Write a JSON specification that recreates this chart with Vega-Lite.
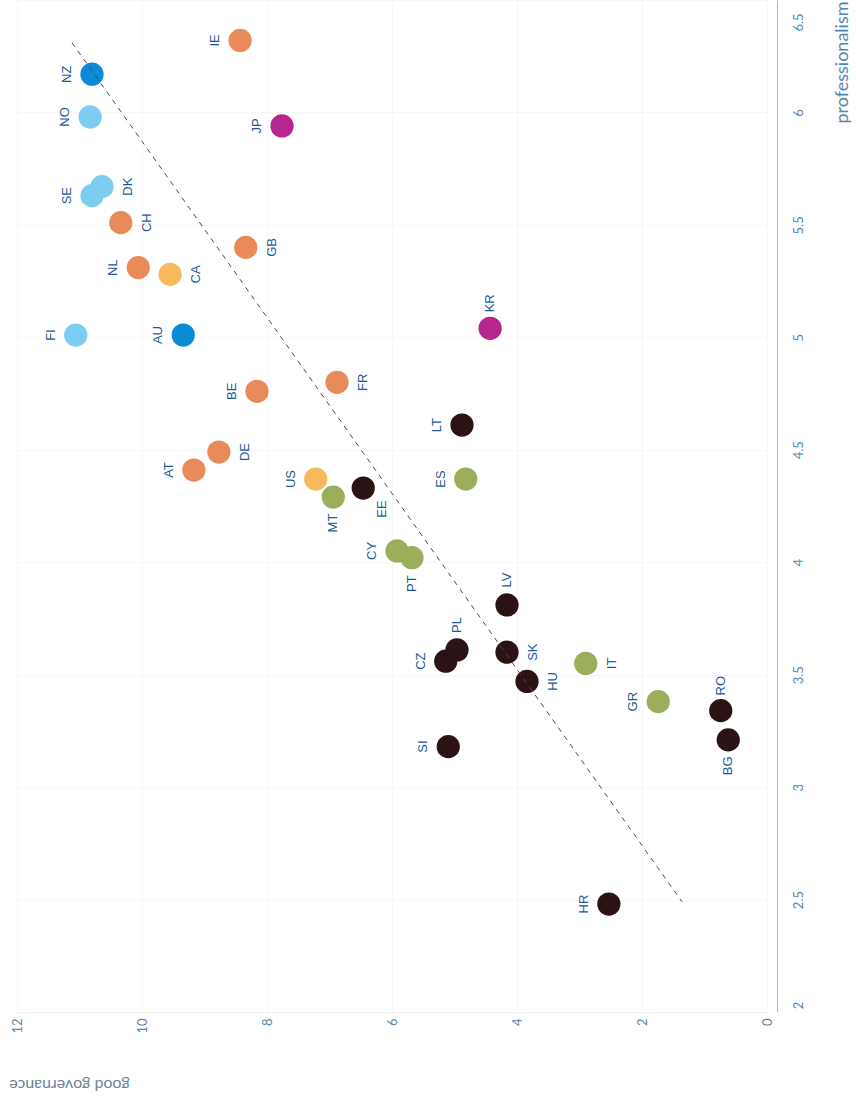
{
  "$schema": "https://vega.github.io/schema/vega-lite/v6.json",
  "autosize": {"type": "none"},
  "padding": {"left": 17, "top": 0, "right": 89, "bottom": 94},
  "width": 750,
  "height": 1012,
  "background": "white",
  "config": {"view": {"stroke": null}},
  "datasets": {
    "countries": [
      {"code": "IE", "group": "Western Europe", "governance": 8.43, "professionalism": 6.32},
      {"code": "NZ", "group": "Oceania", "governance": 10.80, "professionalism": 6.17},
      {"code": "NO", "group": "Nordic", "governance": 10.83, "professionalism": 5.98},
      {"code": "JP", "group": "East Asia", "governance": 7.76, "professionalism": 5.94},
      {"code": "SE", "group": "Nordic", "governance": 10.80, "professionalism": 5.63},
      {"code": "DK", "group": "Nordic", "governance": 10.64, "professionalism": 5.67},
      {"code": "CH", "group": "Western Europe", "governance": 10.34, "professionalism": 5.51},
      {"code": "GB", "group": "Western Europe", "governance": 8.34, "professionalism": 5.40},
      {"code": "NL", "group": "Western Europe", "governance": 10.06, "professionalism": 5.31},
      {"code": "CA", "group": "North America", "governance": 9.55, "professionalism": 5.28},
      {"code": "FI", "group": "Nordic", "governance": 11.06, "professionalism": 5.01},
      {"code": "AU", "group": "Oceania", "governance": 9.34, "professionalism": 5.01},
      {"code": "KR", "group": "East Asia", "governance": 4.43, "professionalism": 5.04},
      {"code": "BE", "group": "Western Europe", "governance": 8.16, "professionalism": 4.76},
      {"code": "FR", "group": "Western Europe", "governance": 6.88, "professionalism": 4.80},
      {"code": "LT", "group": "Central and Eastern Europe", "governance": 4.88, "professionalism": 4.61},
      {"code": "AT", "group": "Western Europe", "governance": 9.17, "professionalism": 4.41},
      {"code": "DE", "group": "Western Europe", "governance": 8.77, "professionalism": 4.49},
      {"code": "US", "group": "North America", "governance": 7.22, "professionalism": 4.37},
      {"code": "MT", "group": "Southern Europe", "governance": 6.94, "professionalism": 4.29},
      {"code": "EE", "group": "Central and Eastern Europe", "governance": 6.46, "professionalism": 4.33},
      {"code": "ES", "group": "Southern Europe", "governance": 4.82, "professionalism": 4.37},
      {"code": "CY", "group": "Southern Europe", "governance": 5.92, "professionalism": 4.05},
      {"code": "PT", "group": "Southern Europe", "governance": 5.68, "professionalism": 4.02},
      {"code": "LV", "group": "Central and Eastern Europe", "governance": 4.16, "professionalism": 3.81},
      {"code": "PL", "group": "Central and Eastern Europe", "governance": 4.96, "professionalism": 3.61},
      {"code": "CZ", "group": "Central and Eastern Europe", "governance": 5.14, "professionalism": 3.56},
      {"code": "SK", "group": "Central and Eastern Europe", "governance": 4.16, "professionalism": 3.60},
      {"code": "HU", "group": "Central and Eastern Europe", "governance": 3.84, "professionalism": 3.47},
      {"code": "IT", "group": "Southern Europe", "governance": 2.90, "professionalism": 3.55},
      {"code": "GR", "group": "Southern Europe", "governance": 1.74, "professionalism": 3.38},
      {"code": "RO", "group": "Central and Eastern Europe", "governance": 0.74, "professionalism": 3.34},
      {"code": "BG", "group": "Central and Eastern Europe", "governance": 0.62, "professionalism": 3.21},
      {"code": "SI", "group": "Central and Eastern Europe", "governance": 5.10, "professionalism": 3.18},
      {"code": "HR", "group": "Central and Eastern Europe", "governance": 2.53, "professionalism": 2.48}
    ],
    "trend": [
      {"governance": 11.12, "professionalism": 6.31},
      {"governance": 1.36, "professionalism": 2.49}
    ]
  },
  "encoding": {
    "x": {
      "field": "governance",
      "type": "quantitative",
      "scale": {"domain": [0, 12], "reverse": true, "nice": false, "zero": false},
      "axis": {
        "orient": "bottom",
        "title": "good governance",
        "values": [0, 2, 4, 6, 8, 10, 12],
        "format": "~g",
        "labelAngle": 270,
        "labelAlign": "right",
        "labelBaseline": "middle",
        "labelPadding": 6,
        "labelFlush": false,
        "labelOverlap": false,
        "ticks": false,
        "tickSize": 0,
        "domain": true,
        "domainColor": "#f0f0f0",
        "grid": true,
        "gridColor": "#f7f7f7",
        "labelFont": "Lato",
        "labelFontSize": 13,
        "labelColor": "#5b88ad",
        "titleAngle": 180,
        "titleAlign": "center",
        "titleBaseline": "middle",
        "titleX": 52,
        "titleY": 72,
        "titleFont": "Lato",
        "titleFontSize": 16,
        "titleFontWeight": "normal",
        "titleColor": "#6d8397"
      }
    },
    "y": {
      "field": "professionalism",
      "type": "quantitative",
      "scale": {"domain": [2, 6.5], "nice": false, "zero": false},
      "axis": {
        "orient": "right",
        "title": "professionalism",
        "values": [2, 2.5, 3, 3.5, 4, 4.5, 5, 5.5, 6, 6.5],
        "format": "~g",
        "offset": 10,
        "labelAngle": 270,
        "labelAlign": "center",
        "labelBaseline": "top",
        "labelPadding": 15,
        "labelFlush": false,
        "labelOverlap": false,
        "labelOffset": {"condition": [{"test": "datum.value == 6.5", "value": 22}, {"test": "datum.value == 2", "value": -7}], "value": 0},
        "ticks": false,
        "tickSize": 0,
        "domain": true,
        "domainColor": "#a9bccb",
        "grid": true,
        "gridColor": "#f7f7f7",
        "labelFont": "Lato",
        "labelFontSize": 13,
        "labelColor": "#5b88ad",
        "titleAngle": 270,
        "titleAlign": "right",
        "titleBaseline": "middle",
        "titleX": 65,
        "titleY": 1,
        "titleFont": "Lato",
        "titleFontSize": 18,
        "titleFontWeight": "normal",
        "titleColor": "#4f86b6"
      }
    }
  },
  "layer": [
    {
      "data": {"name": "countries"},
      "mark": {"type": "point", "filled": true, "opacity": 1, "size": 540, "strokeWidth": 0},
      "encoding": {
        "color": {
          "field": "group",
          "type": "nominal",
          "legend": null,
          "scale": {
            "domain": ["Nordic", "Oceania", "Western Europe", "North America", "East Asia", "Central and Eastern Europe", "Southern Europe"],
            "range": ["#7dcdf0", "#0b8bd3", "#e98a5b", "#f6b95c", "#b5268f", "#2b1214", "#9aae5b"]
          }
        }
      }
    },
    {
      "data": {"name": "countries"},
      "transform": [{"filter": {"field": "code", "oneOf": ["IE", "NZ", "NO", "JP", "SE", "NL", "FI", "AU", "BE", "AT", "US", "CY", "LT", "ES", "CZ", "GR", "SI", "HR"]}}],
      "mark": {"type": "text", "angle": 270, "dy": -25, "align": "center", "baseline": "middle", "font": "Liberation Sans", "fontSize": 13, "color": "#1a5a98"},
      "encoding": {"text": {"field": "code"}}
    },
    {
      "data": {"name": "countries"},
      "transform": [{"filter": {"field": "code", "oneOf": ["DK", "CH", "GB", "CA", "FR", "DE", "SK", "HU", "IT"]}}],
      "mark": {"type": "text", "angle": 270, "dy": 26, "align": "center", "baseline": "middle", "font": "Liberation Sans", "fontSize": 13, "color": "#1a5a98"},
      "encoding": {"text": {"field": "code"}}
    },
    {
      "data": {"name": "countries"},
      "transform": [{"filter": {"field": "code", "oneOf": ["LV", "PL", "RO", "KR"]}}],
      "mark": {"type": "text", "angle": 270, "dx": 25, "align": "center", "baseline": "middle", "font": "Liberation Sans", "fontSize": 13, "color": "#1a5a98"},
      "encoding": {"text": {"field": "code"}}
    },
    {
      "data": {"name": "countries"},
      "transform": [{"filter": {"field": "code", "oneOf": ["MT", "PT", "BG"]}}],
      "mark": {"type": "text", "angle": 270, "dx": -26, "align": "center", "baseline": "middle", "font": "Liberation Sans", "fontSize": 13, "color": "#1a5a98"},
      "encoding": {"text": {"field": "code"}}
    },
    {
      "data": {"name": "countries"},
      "transform": [{"filter": {"field": "code", "equal": "EE"}}],
      "mark": {"type": "text", "angle": 270, "dx": -21, "dy": 19, "align": "center", "baseline": "middle", "font": "Liberation Sans", "fontSize": 13, "color": "#1a5a98"},
      "encoding": {"text": {"field": "code"}}
    },
    {
      "data": {"name": "trend"},
      "mark": {"type": "line", "strokeDash": [5, 5], "color": "#4a4a4a", "strokeWidth": 1},
      "encoding": {}
    }
  ]
}
